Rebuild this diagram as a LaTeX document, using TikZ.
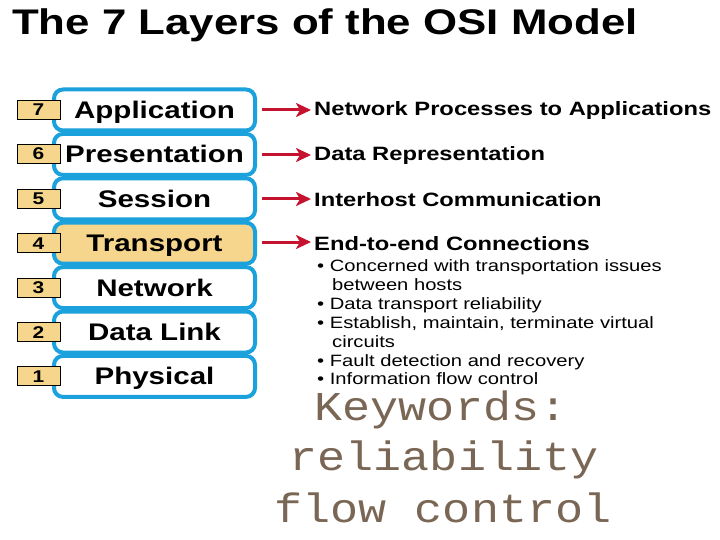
\documentclass[tikz,border=0pt]{standalone}
\usepackage{fontspec}
\setmainfont{Liberation Sans}
\newfontfamily\widesans[FakeStretch=1.23]{Liberation Sans}
\newfontfamily\kwfont[FakeStretch=1.14]{Liberation Mono}
\usetikzlibrary{arrows.meta}
\definecolor{osiblue}{HTML}{1BA1DC}
\definecolor{ositan}{HTML}{F5D68C}
\definecolor{osired}{HTML}{C4122F}
\definecolor{kwbrown}{HTML}{7A6654}
\tikzset{
  layerbox/.style={draw=osiblue, line width=4pt, rounded corners=9pt, fill=white,
    minimum width=201pt, minimum height=41pt, inner sep=0pt,
    text height=17pt, text depth=0pt,
    font=\widesans\bfseries\fontsize{24}{26}\selectfont},
  numbox/.style={draw=black, line width=0.8pt, fill=ositan, minimum width=43pt,
    minimum height=19pt, inner sep=0pt, text height=12pt, text depth=0pt,
    font=\widesans\bfseries\fontsize{17}{18}\selectfont},
  redarrow/.style={draw=osired, line width=3pt, shorten >=3pt, -{Stealth[length=15pt,width=14pt,inset=4pt]}},
  desc/.style={anchor=west, inner sep=0pt, font=\widesans\bfseries\fontsize{19.3}{20}\selectfont},
  bullet/.style={anchor=base west, inner sep=0pt, font=\widesans\fontsize{16.4}{17}\selectfont},
  kw/.style={anchor=base, inner sep=0pt, text height=26pt, text depth=0pt, text=kwbrown, font=\kwfont\fontsize{41}{44}\selectfont}
}
\begin{document}
\begin{tikzpicture}[x=1pt,y=-1pt]
\useasboundingbox (0,0) rectangle (720,540);
\fill[white] (0,0) rectangle (720,540);
% title
\node[anchor=base west, inner sep=0pt, font=\widesans\bfseries\fontsize{35.6}{40}\selectfont] (title) at (12,35) {The 7 Layers of the OSI Model};
% layers
\node[layerbox] (L7) at (154.5,110) {Application};
\node[layerbox] (L6) at (154.5,154.4) {Presentation};
\node[layerbox] (L5) at (154.5,198.8) {Session};
\node[layerbox, fill=ositan] (L4) at (154.5,243.2) {Transport};
\node[layerbox] (L3) at (154.5,287.6) {Network};
\node[layerbox] (L2) at (154.5,332) {Data Link};
\node[layerbox] (L1) at (154.5,376.4) {Physical};
% numbers
\node[numbox] (N7) at (38.5,109.5) {7};
\node[numbox] (N6) at (38.5,154) {6};
\node[numbox] (N5) at (38.5,198.5) {5};
\node[numbox] (N4) at (38.5,243) {4};
\node[numbox] (N3) at (38.5,287.5) {3};
\node[numbox] (N2) at (38.5,332) {2};
\node[numbox] (N1) at (38.5,376) {1};
% descriptions
\node[desc] (D7) at (314,111) {Network Processes to Applications};
\node[desc] (D6) at (314,156) {Data Representation};
\node[desc] (D5) at (314,200) {Interhost Communication};
\node[desc] (D4) at (314,244) {End-to-end Connections};
% arrows
\coordinate (a7) at (262,110);
\coordinate (a6) at (262,155);
\coordinate (a5) at (262,199);
\coordinate (a4) at (262,242);
\draw[redarrow] (a7) -- (a7 -| D7.west);
\draw[redarrow] (a6) -- (a6 -| D6.west);
\draw[redarrow] (a5) -- (a5 -| D5.west);
\draw[redarrow] (a4) -- (a4 -| D4.west);
% bullets
\node[bullet] (b1) at (317,271) {\textbullet\ Concerned with transportation issues};
\node[bullet] (b1b) at (332,290) {between hosts};
\node[bullet] (b2) at (317,309) {\textbullet\ Data transport reliability};
\node[bullet] (b3) at (317,328) {\textbullet\ Establish, maintain, terminate virtual};
\node[bullet] (b3b) at (332,347) {circuits};
\node[bullet] (b4) at (317,366) {\textbullet\ Fault detection and recovery};
\node[bullet] (b5) at (317,384.5) {\textbullet\ Information flow control};
% keywords
\node[kw] (k1) at (441,420) {Keywords:};
\node[kw] (k2) at (444,470) {reliability};
\node[kw] (k3) at (443,522) {flow control};
\end{tikzpicture}
\end{document}
